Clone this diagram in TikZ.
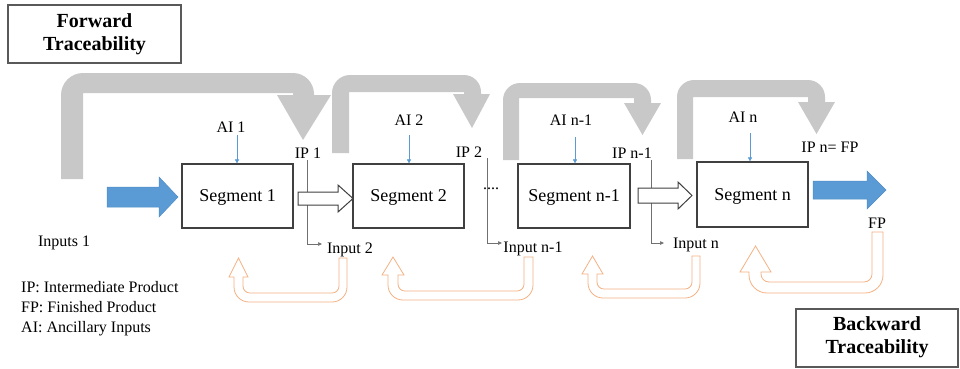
\documentclass[tikz,border=0pt]{standalone}
\usepackage{fontspec}
\setmainfont{Liberation Serif}
\usetikzlibrary{arrows.meta}
\definecolor{segborder}{HTML}{404040}
\definecolor{boxborder}{HTML}{595959}
\definecolor{uturngray}{HTML}{C8C8C8}
\definecolor{backorange}{HTML}{F4B183}
\definecolor{flowblue}{HTML}{5B9BD5}
\definecolor{flowblueedge}{HTML}{4F8CC4}
\definecolor{thinline}{HTML}{707070}
\begin{document}
\begin{tikzpicture}[x=1pt,y=-1pt,
  segbox/.style={draw=segborder, line width=1.2pt, fill=white, inner sep=0pt,
    minimum width=111pt, minimum height=64pt, text depth=0pt,
    font=\fontsize{18}{20}\selectfont},
  tracebox/.style={draw=boxborder, line width=2pt, fill=white, inner sep=0pt,
    align=center, font=\fontsize{20}{23}\selectfont\bfseries},
  lbl/.style={font=\fontsize{16}{18}\selectfont, anchor=base, inner sep=0pt},
  legend/.style={font=\fontsize{16}{18}\selectfont, anchor=base west, inner sep=0pt},
  uturn/.style={fill=uturngray},
  backarrow/.style={draw=backorange, line width=0.8pt, fill=white},
  hollow/.style={draw=segborder, line width=1pt, fill=white},
  bluearrow/.style={fill=flowblue, draw=flowblueedge, line width=0.5pt},
  aiarrow/.style={draw=flowblue, line width=0.6pt, -{Triangle[length=4pt,width=4pt]}},
  ipline/.style={draw=thinline, line width=0.6pt, -{Triangle[length=4pt,width=3.5pt]}}
]
\useasboundingbox (0,0) rectangle (960,368);

% ---------- grey forward U-turn arrows ----------
\fill[uturn] (61,179) -- (61,95) .. controls (61,82.9) and (70.9,73) .. (83,73)
  -- (293,73) .. controls (304.6,73) and (314,82.4) .. (314,94) -- (314,95)
  -- (331,95) -- (303,140) -- (277,95) -- (293,95) -- (293,93) -- (83,93) -- (83,179) -- cycle;
\fill[uturn] (332,153) -- (332,93) .. controls (332,83.1) and (340.1,75) .. (350,75)
  -- (464,75) .. controls (473.4,75) and (481,82.6) .. (481,92) -- (481,94)
  -- (490,94) -- (472,128) -- (453,94) -- (464,94) -- (464,92) -- (349,92) -- (349,153) -- cycle;
\fill[uturn] (503,160) -- (503,100) .. controls (503,90.6) and (510.6,83) .. (520,83)
  -- (634,83) .. controls (643.4,83) and (651,90.6) .. (651,100) -- (651,103)
  -- (661,103) -- (642.5,135) -- (624,103) -- (634,103) -- (634,98) -- (519,98) -- (519,160) -- cycle;
\fill[uturn] (677,159) -- (677,97) .. controls (677,87.6) and (684.6,80) .. (694,80)
  -- (808,80) .. controls (817.4,80) and (825,87.6) .. (825,97) -- (825,102)
  -- (835,102) -- (816.5,134) -- (798,102) -- (808,102) -- (808,97) -- (693,97) -- (693,159) -- cycle;

% ---------- orange backward U-turn arrows ----------
\draw[backarrow] (339,258) -- (347,258) -- (347,287) .. controls (347,295.3) and (340.3,302) .. (332,302)
  -- (249,302) .. controls (240.7,302) and (234,295.3) .. (234,287) -- (234,277) -- (229,277)
  -- (238.5,258) -- (248,277) -- (243,277) -- (243,286) .. controls (243,289.9) and (246.1,293) .. (250,293)
  -- (332,293) .. controls (335.9,293) and (339,289.9) .. (339,286) -- cycle;
\draw[backarrow] (524,257) -- (533,257) -- (533,285) .. controls (533,293.3) and (526.3,300) .. (518,300)
  -- (403,300) .. controls (394.7,300) and (388,293.3) .. (388,285) -- (388,275) -- (382,275)
  -- (393,257) -- (404,275) -- (398,275) -- (398,284) .. controls (398,287.9) and (401.1,291) .. (405,291)
  -- (517,291) .. controls (520.9,291) and (524,287.9) .. (524,284) -- cycle;
\draw[backarrow] (692,256) -- (700,256) -- (700,283) .. controls (700,291.3) and (693.3,298) .. (685,298)
  -- (603,298) .. controls (594.7,298) and (588,291.3) .. (588,283) -- (588,274) -- (582,274)
  -- (592.5,256) -- (603,274) -- (597,274) -- (597,282) .. controls (597,285.9) and (600.1,289) .. (604,289)
  -- (685,289) .. controls (688.9,289) and (692,285.9) .. (692,282) -- cycle;
\draw[backarrow] (872,232) -- (883,232) -- (883,275) .. controls (883,284.9) and (874.9,293) .. (865,293)
  -- (767,293) .. controls (757.1,293) and (749,284.9) .. (749,275) -- (749,272) -- (740,272)
  -- (755.5,246) -- (771,272) -- (761,272) -- (761,274) .. controls (761,278.4) and (764.6,282) .. (769,282)
  -- (864,282) .. controls (868.4,282) and (872,278.4) .. (872,274) -- cycle;

% ---------- segments ----------
\node[segbox] (seg1) at (237.5,196) {Segment 1};
\node[segbox] (seg2) at (408.5,196) {Segment 2};
\node[segbox, minimum width=112pt] (segn1) at (574,196) {Segment n-1};
\node[segbox, minimum height=65pt] (segn) at (752.5,194.5) {Segment n};

% ---------- IP -> Input thin connectors ----------
\coordinate (l1a) at (307,160); \coordinate (l1b) at (322,244);
\coordinate (l2a) at (487,158); \coordinate (l2b) at (502,243);
\coordinate (l3a) at (651,160); \coordinate (l3b) at (664,243);
\draw[ipline] (l1a) |- (l1b);
\draw[ipline] (l2a) |- (l2b);
\draw[ipline] (l3a) |- (l3b);

% ---------- hollow arrows between segments ----------
\draw[hollow] (298,192) -- (338,192) -- (338,185) -- (353,198.5) -- (338,212) -- (338,205) -- (298,205) -- cycle;
\draw[hollow] (638,188) -- (678,188) -- (678,182) -- (692,195.5) -- (678,209) -- (678,203) -- (638,203) -- cycle;

% ---------- blue input / output arrows ----------
\draw[bluearrow] (107,187) -- (159,187) -- (159,177) -- (178,197) -- (159,217) -- (159,207) -- (107,207) -- cycle;
\draw[bluearrow] (813,181) -- (867,181) -- (867,171) -- (886,190) -- (867,209) -- (867,199) -- (813,199) -- cycle;

% ---------- ancillary inputs ----------
\node[lbl] (ai1) at (231,132) {AI 1};
\node[lbl] (ai2) at (409,125) {AI 2};
\node[lbl] (ain1) at (571,125) {AI n-1};
\node[lbl] (ain) at (743,122) {AI n};
\coordinate (a1) at (237,135);
\coordinate (a2) at (409,135);
\coordinate (a3) at (575,137);
\coordinate (a4) at (750,133);
\draw[aiarrow] (a1) -- (a1 |- seg1.north);
\draw[aiarrow] (a2) -- (a2 |- seg2.north);
\draw[aiarrow] (a3) -- (a3 |- segn1.north);
\draw[aiarrow] (a4) -- (a4 |- segn.north);

% ---------- labels ----------
\node[lbl] (ip1) at (308,158) {IP 1};
\node[lbl] (ip2) at (469,157) {IP 2};
\node[lbl] (ipn1) at (632,158) {IP n-1};
\node[lbl] (ipn) at (830,152) {IP n= FP};
\node[lbl] (in2) at (350,253) {Input 2};
\node[lbl] (inn1) at (533,252) {Input n-1};
\node[lbl] (inn) at (696,248) {Input n};
\node[lbl] (in1) at (64,246) {Inputs 1};
\node[lbl] (fp) at (877,228) {FP};
\node[lbl] (dots) at (491,189) {....};

% ---------- legend ----------
\node[legend] (lg1) at (21,292) {IP: Intermediate Product};
\node[legend] (lg2) at (21,312) {FP: Finished Product};
\node[legend] (lg3) at (21,332) {AI: Ancillary Inputs};

% ---------- traceability boxes ----------
\node[tracebox, minimum width=173pt, minimum height=58pt] (fwd) at (94.5,34) {Forward\\Traceability};
\node[tracebox, minimum width=162pt, minimum height=58pt] (bwd) at (877,337.5) {Backward\\Traceability};
\end{tikzpicture}
\end{document}
